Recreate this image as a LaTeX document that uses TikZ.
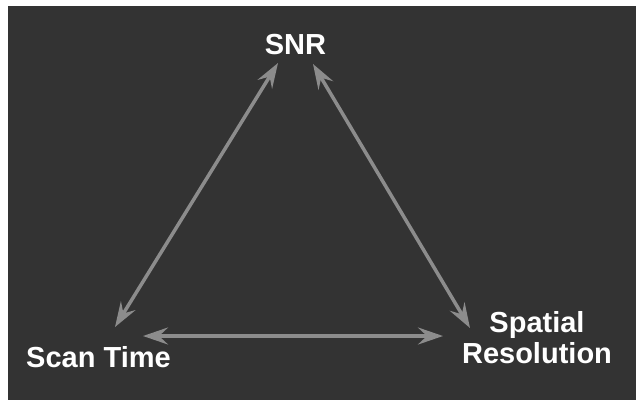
\documentclass[tikz,border=0pt]{standalone}
\usepackage{fontspec}
\setmainfont{Liberation Sans}
\usetikzlibrary{arrows.meta}
\definecolor{bgdark}{HTML}{333333}
\definecolor{arrgray}{HTML}{8C8C8C}
\begin{document}
\begin{tikzpicture}[x=1pt,y=-1pt,
  lbl/.style={text=white,inner sep=0pt,font=\fontsize{29}{31}\selectfont\bfseries},
  link/.style={draw=arrgray,line width=3.5pt,
    {Stealth[length=25pt,width=17pt,inset=9pt]}-{Stealth[length=25pt,width=17pt,inset=9pt]}}]
\useasboundingbox (0,0) rectangle (636,400);
\fill[white] (0,0) rectangle (636,400);
\fill[bgdark] (8,6) rectangle (636,400);
\node[lbl,anchor=base] (snr) at (295.5,54) {SNR};
\node[lbl,anchor=base west] (scan) at (26,367) {Scan Time};
\node[lbl,align=center] (spat) at (537,338) {Spatial\\Resolution};
\coordinate (snrL) at (278,63);
\coordinate (snrR) at (313,64);
\coordinate (scanT) at (115,327);
\coordinate (scanR) at (143,336);
\coordinate (spatT) at (470,328);
\coordinate (spatL) at (443,336);
\draw[link] (snrL) -- (scanT);
\draw[link] (snrR) -- (spatT);
\draw[link] (scanR) -- (spatL);
\end{tikzpicture}
\end{document}
